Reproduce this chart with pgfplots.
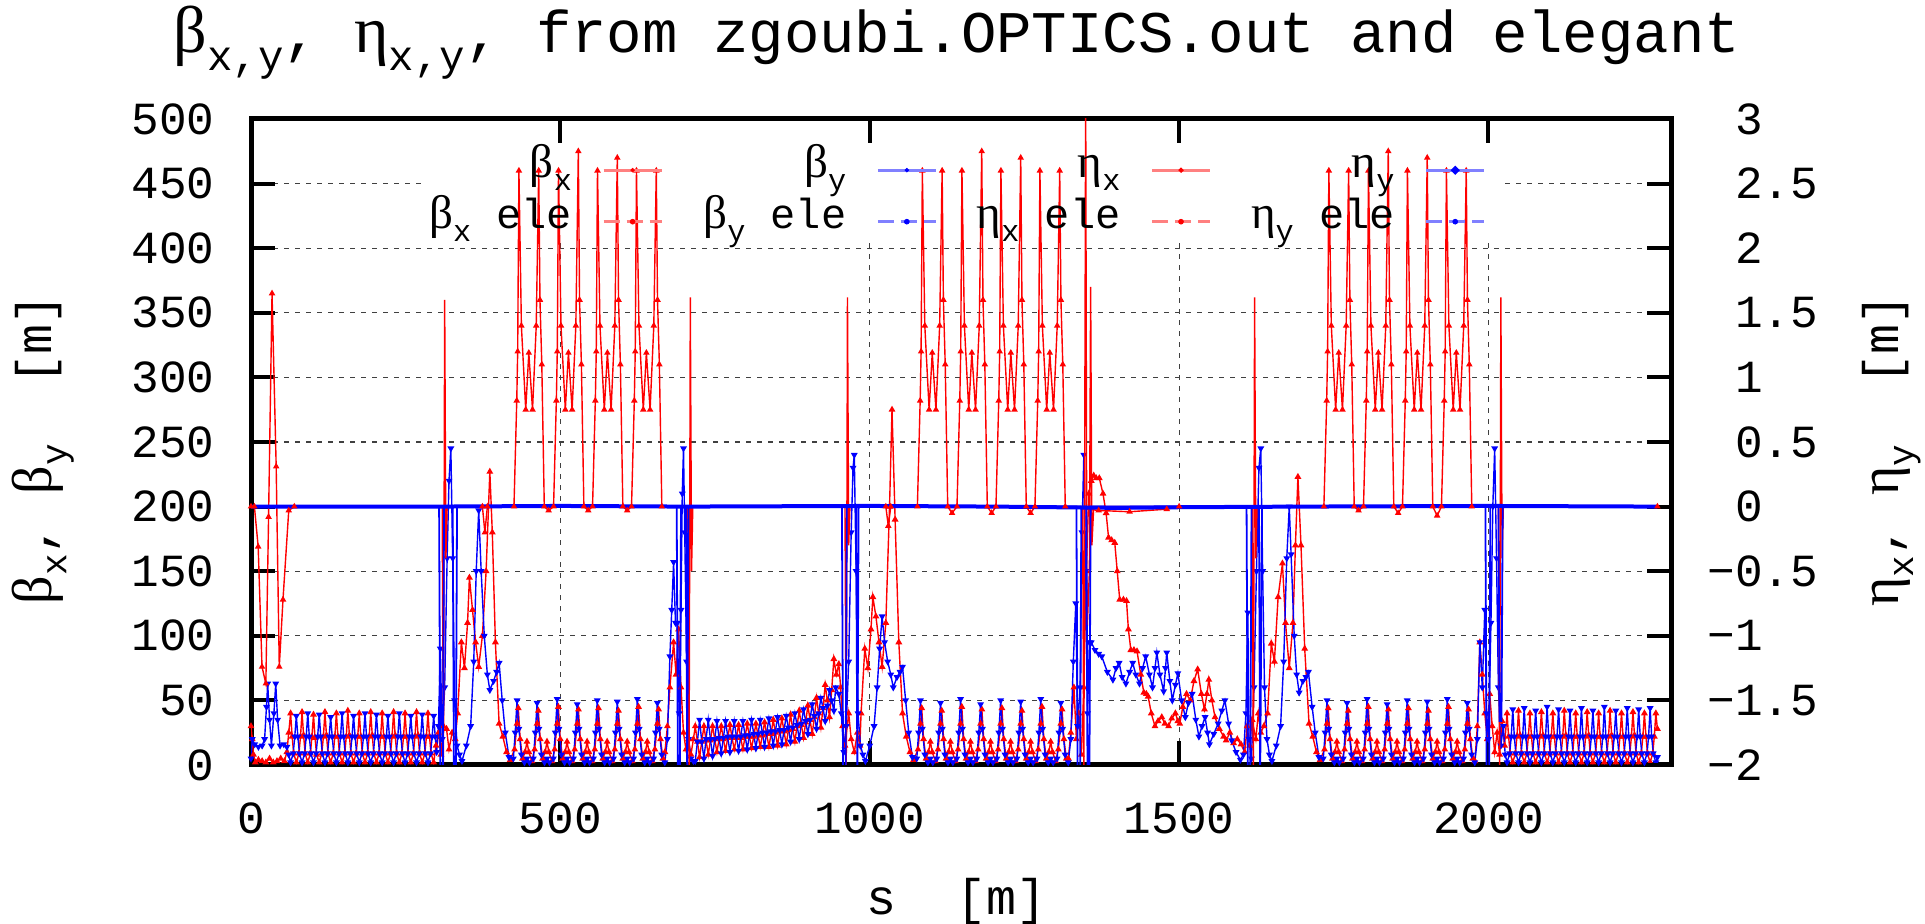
\documentclass[border=0pt]{standalone}
\usepackage{fontspec}
\setmainfont{Liberation Mono}
\newfontfamily\grk{Liberation Serif}
\usepackage{graphicx}
\usepackage{pgfplots}
\pgfplotsset{compat=1.18}
\newcommand{\sub}[1]{\raisebox{-0.3em}{\scalebox{0.72}{#1}}}
\newcommand{\G}[1]{\scalebox{1.12}{\grk #1}}
\newcommand{\tickfont}{\fontsize{23}{23}\selectfont}
\newcommand{\legfont}{\fontsize{21}{21}\selectfont}
\newcommand{\labfont}{\fontsize{25}{25}\selectfont}
\newcommand{\titfont}{\fontsize{29.5}{30}\selectfont}
\newcommand{\lt}[1]{\rule[-3.75pt]{0pt}{25.5pt}\makebox[106.5pt][r]{#1\hspace{15pt}}}
\pgfplotsset{
 legsolid/.style={legend image code/.code={\draw[#1!50, line width=1.6pt] (0pt,-6.5pt)--(29pt,-6.5pt); \fill[#1] (14.5pt,-6.5pt) circle (0.9pt);}},
 legdash/.style={legend image code/.code={\draw[#1!50, line width=1.6pt, dash pattern=on 8pt off 3.5pt] (0pt,-6.5pt)--(29pt,-6.5pt); \fill[#1] (14.5pt,-6.5pt) circle (1.2pt);}},
}
\begin{document}
\begin{tikzpicture}
\useasboundingbox (0,0) rectangle (962.5pt,462pt);
\begin{axis}[
  at={(125.5pt,79.5pt)}, anchor=south west,
  scale only axis, width=710pt, height=323pt,
  xmin=0, xmax=2295, ymin=0, ymax=500,
  xtick={0,500,1000,1500,2000}, xticklabels={0,500,1000,1500,2000},
  ytick={0,50,100,150,200,250,300,350,400,450,500},
  yticklabels={0,50,100,150,200,250,300,350,400,450,500},
  xtick pos=both, ytick pos=left, tick align=inside,
  major tick length=12pt,
  tick style={black, line width=2pt},
  axis line style={line width=2.5pt},
  grid=major, major grid style={black!75, line width=0.6pt, dash pattern=on 2.5pt off 3pt},
  tick label style={font=\tickfont, inner sep=0pt},
  yticklabel style={anchor=east, xshift=-18pt},
  xticklabel style={anchor=north, yshift=-18.5pt},
  title={\G{β}\sub{x,y}, \G{η}\sub{x,y}, from zgoubi.OPTICS.out and elegant},
  title style={at={(0.497,1.0836)}, anchor=base, font=\titfont, inner sep=0pt},
  xlabel={s~~[m]},
  xlabel style={at={(0.4965,-0.232)}, anchor=base, font=\labfont, inner sep=0pt},
  ylabel={\G{β}\sub{x}, \G{β}\sub{y}~~[m]},
  ylabel style={at={(-0.1465,0.489)}, anchor=center, font=\labfont, inner sep=0pt},
]
\fill[white] (axis cs:274,404) rectangle (axis cs:2023,481);
% beta_x
\addplot[red, line width=0.7pt, mark=triangle*, mark size=1.3pt] coordinates {
(0,30)(2,20)(4,8)(7,2)(12,4)(18,3)(24,2)(30,5)(36,2)(42,3)(48,5)(54,3)(58,10)(61,25)
(64,40)(66.5,22)(69,9)(73.25,2)(77.5,9)(80,22)
(82.5,41)(85,23)(87.5,9)(91.75,2)(96,9)(98.5,22)
(101,39)(103.5,21)(106,8)(110.25,2)(114.5,9)(117,22)
(119.5,41)(122,23)(124.5,9)(128.75,2)(133,9)(135.5,22)
(138,40)(140.5,22)(143,9)(147.25,2)(151.5,9)(154,22)
(156.5,42)(159,23)(161.5,9)(165.75,2)(170,9)(172.5,22)
(175,40)(177.5,22)(180,9)(184.25,2)(188.5,9)(191,22)
(193.5,41)(196,23)(198.5,9)(202.75,2)(207,9)(209.5,22)
(212,40)(214.5,22)(217,9)(221.25,2)(225.5,9)(228,22)
(230.5,41)(233,23)(235.5,9)(239.75,2)(244,9)(246.5,22)
(249,40)(251.5,22)(254,9)(258.25,2)(262.5,9)(265,22)
(267.5,41)(270,23)(272.5,9)(276.75,2)(281,9)(283.5,22)
(286,40)(288.5,22)(291,9)(295.25,2)
(299,15)(303,25)(307,8)(311,30)(316,28)(320,12)(325,25)(330,20)
(334,40)(340,95)(345,75)(350,110)(353,145)(358,120)(363,95)(368,76)(374,100)(380,150)(386,227)(390,180)(395,95)(401,32)(407,22)(413,10)(419,4)
(426,12)(430,32)(432,44)(435,20)(439,5)(443,10)(446,18)(449,10)(454,3)
(458.4,12)(462.4,32)(464.4,42)(467.4,20)(471.4,5)(475.4,10)(478.4,18)(481.4,10)(486.4,3)
(490.8,12)(494.8,32)(496.8,45)(499.8,20)(503.8,5)(507.8,10)(510.8,18)(513.8,10)(518.8,3)
(523.2,12)(527.2,32)(529.2,43)(532.2,20)(536.2,5)(540.2,10)(543.2,18)(546.2,10)(551.2,3)
(555.6,12)(559.6,32)(561.6,44)(564.6,20)(568.6,5)(572.6,10)(575.6,18)(578.6,10)(583.6,3)
(588,12)(592,32)(594,42)(597,20)(601,5)(605,10)(608,18)(611,10)(616,3)
(620.4,12)(624.4,32)(626.4,45)(629.4,20)(633.4,5)(637.4,10)(640.4,18)(643.4,10)(648.4,3)
(652.8,12)(656.8,32)(658.8,43)(661.8,20)(665.8,5)
(669,10)(673,30)(677,60)(683,95)(687,70)(691,105)(695,60)(699,25)(703,12)(707,20)(711,8)(715,20)
(718,30)(721.5,18)(725,6)(728.5,18)
(732,30)(735.5,19)(739,8)(742.5,19)
(746,30)(749.5,20)(753,10)(756.5,20)
(760,30)(763.5,20)(767,11)(770.5,21)
(774,31)(777.5,21)(781,12)(784.5,21)
(788,31)(791.5,21)(795,12)(798.5,22)
(802,32)(805.5,22)(809,13)(812.5,22)
(816,32)(819.5,23)(823,14)(826.5,23)
(830,33)(833.5,24)(837,14)(840.5,24)
(844,35)(847.5,25)(851,15)(854.5,26)
(858,36)(861.5,26)(865,16)(868.5,27)
(872,39)(875.5,28)(879,18)(882.5,30)
(886,42)(889.5,31)(893,21)(896.5,33)
(900,46)(903.5,35)(907,24)(910.5,37)
(914,52)(917.5,40)(921,29)(924.5,44)
(928,62)(931.5,50)(935,37)(938.5,58)
(942,82)(946,70)(950,78)(953,60)(956,30)(960,15)(966,40)(970,20)(975,10)(980,25)(984,15)
(986,40)(992,90)(997,75)(1002,105)(1005,130)(1010,115)(1015,95)(1020,76)(1026,110)(1032,200)(1036,275)(1041,190)(1047,95)(1053,40)(1059,22)(1065,10)(1071,4)
(1078,12)(1082,32)(1084,44)(1087,20)(1091,5)(1095,10)(1098,18)(1101,10)(1106,3)
(1110.4,12)(1114.4,32)(1116.4,42)(1119.4,20)(1123.4,5)(1127.4,10)(1130.4,18)(1133.4,10)(1138.4,3)
(1142.8,12)(1146.8,32)(1148.8,45)(1151.8,20)(1155.8,5)(1159.8,10)(1162.8,18)(1165.8,10)(1170.8,3)
(1175.2,12)(1179.2,32)(1181.2,43)(1184.2,20)(1188.2,5)(1192.2,10)(1195.2,18)(1198.2,10)(1203.2,3)
(1207.6,12)(1211.6,32)(1213.6,44)(1216.6,20)(1220.6,5)(1224.6,10)(1227.6,18)(1230.6,10)(1235.6,3)
(1240,12)(1244,32)(1246,42)(1249,20)(1253,5)(1257,10)(1260,18)(1263,10)(1268,3)
(1272.4,12)(1276.4,32)(1278.4,45)(1281.4,20)(1285.4,5)(1289.4,10)(1292.4,18)(1295.4,10)(1300.4,3)
(1304.8,12)(1308.8,32)(1310.8,43)(1313.8,20)(1317.8,5)
(1321,5)(1325,25)(1330,60)(1334,20)(1338,40)(1342,8)(1346,60)(1350,150)(1354,210)(1358,220)(1362,224)
(1366,222)(1371,222)(1377,210)(1382,195)(1386,176)(1391,174)(1396,172)(1400,150)(1404,128)(1410,128)(1415,127)(1418,105)(1422,89)(1427,89)(1432,88)(1438,70)(1443,56)(1447,55)(1450,53)(1455,40)(1461,30)(1466,34)(1472,37)(1477,32)(1483,30)(1488,36)(1494,40)(1498,34)(1501,32)(1506,45)(1512,55)(1518,50)(1524,65)(1530,74)(1536,55)(1541,43)(1545,55)(1548,66)(1553,50)(1558,37)(1565,28)(1572,22)(1576,19)(1582,25)(1588,17)(1594,20)(1600,16)
(1606,10)(1610,30)(1614,15)(1618,35)(1624,20)(1628,40)(1632,25)(1637,30)
(1643,40)(1649,94)(1654,80)(1660,130)(1667,156)(1672,110)(1678,75)(1684,110)(1688,170)(1692,223)(1697,170)(1703,90)(1710,32)(1716,22)(1722,10)(1728,4)
(1735,12)(1739,32)(1741,44)(1744,20)(1748,5)(1752,10)(1755,18)(1758,10)(1763,3)
(1767.4,12)(1771.4,32)(1773.4,42)(1776.4,20)(1780.4,5)(1784.4,10)(1787.4,18)(1790.4,10)(1795.4,3)
(1799.8,12)(1803.8,32)(1805.8,45)(1808.8,20)(1812.8,5)(1816.8,10)(1819.8,18)(1822.8,10)(1827.8,3)
(1832.2,12)(1836.2,32)(1838.2,43)(1841.2,20)(1845.2,5)(1849.2,10)(1852.2,18)(1855.2,10)(1860.2,3)
(1864.6,12)(1868.6,32)(1870.6,44)(1873.6,20)(1877.6,5)(1881.6,10)(1884.6,18)(1887.6,10)(1892.6,3)
(1897,12)(1901,32)(1903,42)(1906,20)(1910,5)(1914,10)(1917,18)(1920,10)(1925,3)
(1929.4,12)(1933.4,32)(1935.4,45)(1938.4,20)(1942.4,5)(1946.4,10)(1949.4,18)(1952.4,10)(1957.4,3)
(1961.8,12)(1965.8,32)(1967.8,43)(1970.8,20)(1974.8,5)
(1978,3)(1982,30)(1986,95)(1990,70)(1994,40)(1998,20)(2002,55)(2006,30)(2010,10)(2014,25)(2018,8)(2022,34)(2026,15)
(2030,40)(2032.5,22)(2035,9)(2039.25,2)(2043.5,9)(2046,22)
(2048.5,42)(2051,23)(2053.5,9)(2057.75,2)(2062,9)(2064.5,22)
(2067,40)(2069.5,22)(2072,9)(2076.25,2)(2080.5,9)(2083,22)
(2085.5,41)(2088,23)(2090.5,9)(2094.75,2)(2099,9)(2101.5,22)
(2104,40)(2106.5,22)(2109,9)(2113.25,2)(2117.5,9)(2120,22)
(2122.5,42)(2125,23)(2127.5,9)(2131.75,2)(2136,9)(2138.5,22)
(2141,40)(2143.5,22)(2146,9)(2150.25,2)(2154.5,9)(2157,22)
(2159.5,41)(2162,23)(2164.5,9)(2168.75,2)(2173,9)(2175.5,22)
(2178,40)(2180.5,22)(2183,9)(2187.25,2)(2191.5,9)(2194,22)
(2196.5,42)(2199,23)(2201.5,9)(2205.75,2)(2210,9)(2212.5,22)
(2215,40)(2217.5,22)(2220,9)(2224.25,2)(2228.5,9)(2231,22)
(2233.5,41)(2236,23)(2238.5,9)(2242.75,2)(2247,9)(2249.5,22)
(2252,40)(2254.5,22)(2257,9)(2261.25,2)(2265.5,9)(2268,22)
(2270.5,40)(2273,28)
};
% beta_y
\addplot[blue, line width=0.7pt, mark=triangle*, mark size=1.3pt, mark options={rotate=180}] coordinates {
(0,5)(2,20)(6,16)(12,14)(18,15)(22,20)(25,45)(27,63)(30,35)(33,15)(37,40)(40,63)(43,35)(47,15)(53,16)(58,14)(61,8)
(64,2)(68.25,9)(70.75,22)(73.25,38)(75.75,22)(78.25,9)
(82.5,2)(86.75,9)(89.25,22)(91.75,40)(94.25,22)(96.75,9)
(101,2)(105.25,9)(107.75,22)(110.25,39)(112.75,22)(115.25,9)
(119.5,2)(123.75,9)(126.25,22)(128.75,37)(131.25,22)(133.75,9)
(138,2)(142.25,9)(144.75,22)(147.25,40)(149.75,22)(152.25,9)
(156.5,2)(160.75,9)(163.25,22)(165.75,38)(168.25,22)(170.75,9)
(175,2)(179.25,9)(181.75,22)(184.25,40)(186.75,22)(189.25,9)
(193.5,2)(197.75,9)(200.25,22)(202.75,39)(205.25,22)(207.75,9)
(212,2)(216.25,9)(218.75,22)(221.25,38)(223.75,22)(226.25,9)
(230.5,2)(234.75,9)(237.25,22)(239.75,40)(242.25,22)(244.75,9)
(249,2)(253.25,9)(255.75,22)(258.25,38)(260.75,22)(263.25,9)
(267.5,2)(271.75,9)(274.25,22)(276.75,39)(279.25,22)(281.75,9)
(286,2)(290.25,9)(292.75,22)(295.25,38)(297.75,22)
(300,10)(303,30)(306,90)(309,20)(313,60)(317,160)(320,220)(323,245)(326,160)(329,50)(333,15)
(337,8)(341,3)(348,15)(355,30)(360,80)(364,150)(368,197)(372,150)(377,100)(382,70)(386,58)(392,65)(397,72)(401,79)(406,50)(411,25)(417,6)
(424,5)(427,25)(430,50)(433,28)(437,8)(442,2)(446,5)(450,2)
(456.4,5)(459.4,25)(462.4,48)(465.4,28)(469.4,8)(474.4,2)(478.4,5)(482.4,2)
(488.8,5)(491.8,25)(494.8,51)(497.8,28)(501.8,8)(506.8,2)(510.8,5)(514.8,2)
(521.2,5)(524.2,25)(527.2,47)(530.2,28)(534.2,8)(539.2,2)(543.2,5)(547.2,2)
(553.6,5)(556.6,25)(559.6,50)(562.6,28)(566.6,8)(571.6,2)(575.6,5)(579.6,2)
(586,5)(589,25)(592,49)(595,28)(599,8)(604,2)(608,5)(612,2)
(618.4,5)(621.4,25)(624.4,51)(627.4,28)(631.4,8)(636.4,2)(640.4,5)(644.4,2)
(650.8,5)(653.8,25)(656.8,48)(659.8,28)(663.8,8)(668.8,2)
(673,20)(677,84)(680,120)(683,157)(686,110)(689,110)(692,40)(695,120)(697,210)(699,245)(701,180)(704,80)(707,20)(711,5)(715,3)
(718,3)(721.5,18)(725,35)(728.5,18)
(732,5)(735.5,20)(739,35)(742.5,20)
(746,7)(749.5,20)(753,34)(756.5,21)
(760,9)(763.5,21)(767,34)(770.5,22)
(774,10)(777.5,22)(781,34)(784.5,22)
(788,11)(791.5,22)(795,34)(798.5,23)
(802,12)(805.5,23)(809,35)(812.5,24)
(816,13)(819.5,24)(823,35)(826.5,25)
(830,14)(833.5,25)(837,36)(840.5,26)
(844,15)(847.5,26)(851,37)(854.5,27)
(858,16)(861.5,27)(865,38)(868.5,29)
(872,18)(875.5,29)(879,40)(882.5,31)
(886,20)(889.5,32)(893,43)(896.5,34)
(900,24)(903.5,35)(907,47)(910.5,38)
(914,28)(917.5,40)(921,52)(924.5,44)
(928,34)(931.5,46)(935,58)(938.5,50)
(942,42)(945,60)
(950,55)(954,40)(958,10)(962,30)(966,80)(970,180)(973,230)(975,240)(978,150)(981,40)(985,15)
(989,8)(993,3)(1000,15)(1007,30)(1012,60)(1016,90)(1020,115)(1024,95)(1029,80)(1034,70)(1038,60)(1044,68)(1049,72)(1053,76)(1058,50)(1063,25)(1069,6)
(1076,5)(1079,25)(1082,50)(1085,28)(1089,8)(1094,2)(1098,5)(1102,2)
(1108.4,5)(1111.4,25)(1114.4,48)(1117.4,28)(1121.4,8)(1126.4,2)(1130.4,5)(1134.4,2)
(1140.8,5)(1143.8,25)(1146.8,51)(1149.8,28)(1153.8,8)(1158.8,2)(1162.8,5)(1166.8,2)
(1173.2,5)(1176.2,25)(1179.2,47)(1182.2,28)(1186.2,8)(1191.2,2)(1195.2,5)(1199.2,2)
(1205.6,5)(1208.6,25)(1211.6,50)(1214.6,28)(1218.6,8)(1223.6,2)(1227.6,5)(1231.6,2)
(1238,5)(1241,25)(1244,49)(1247,28)(1251,8)(1256,2)(1260,5)(1264,2)
(1270.4,5)(1273.4,25)(1276.4,51)(1279.4,28)(1283.4,8)(1288.4,2)(1292.4,5)(1296.4,2)
(1302.8,5)(1305.8,25)(1308.8,48)(1311.8,28)(1315.8,8)(1320.8,2)
(1325,20)(1329,80)(1333,125)(1336,30)(1340,60)(1343,180)(1346,240)(1349,150)(1352,40)(1355,95)(1358,95)
(1364,89)(1370,86)(1375,84)(1384,72)(1393,66)(1398,75)(1403,79)(1408,68)(1414,63)(1420,72)(1425,79)(1430,70)(1436,63)(1441,75)(1446,84)(1452,70)(1457,60)(1461,75)(1464,87)(1469,70)(1475,57)(1478,75)(1480,87)(1485,65)(1489,50)(1494,62)(1498,71)(1504,50)(1510,37)(1515,48)(1521,55)(1527,35)(1532,22)(1537,30)(1542,37)(1546,25)(1549,16)(1556,24)(1563,32)(1569,42)(1574,50)(1580,32)(1585,19)(1592,10)(1599,4)
(1604,8)(1608,40)(1611,118)(1613,20)(1617,5)(1621,60)(1625,150)(1629,230)(1632,245)(1635,150)(1638,60)(1642,20)
(1646,8)(1650,3)(1657,15)(1664,30)(1669,80)(1674,160)(1678,200)(1681,163)(1686,100)(1690,70)(1694,56)(1700,65)(1705,68)(1709,72)(1715,45)(1720,25)(1726,6)
(1733,5)(1736,25)(1739,50)(1742,28)(1746,8)(1751,2)(1755,5)(1759,2)
(1765.4,5)(1768.4,25)(1771.4,48)(1774.4,28)(1778.4,8)(1783.4,2)(1787.4,5)(1791.4,2)
(1797.8,5)(1800.8,25)(1803.8,51)(1806.8,28)(1810.8,8)(1815.8,2)(1819.8,5)(1823.8,2)
(1830.2,5)(1833.2,25)(1836.2,47)(1839.2,28)(1843.2,8)(1848.2,2)(1852.2,5)(1856.2,2)
(1862.6,5)(1865.6,25)(1868.6,50)(1871.6,28)(1875.6,8)(1880.6,2)(1884.6,5)(1888.6,2)
(1895,5)(1898,25)(1901,49)(1904,28)(1908,8)(1913,2)(1917,5)(1921,2)
(1927.4,5)(1930.4,25)(1933.4,51)(1936.4,28)(1940.4,8)(1945.4,2)(1949.4,5)(1953.4,2)
(1959.8,5)(1962.8,25)(1965.8,48)(1968.8,28)(1972.8,8)(1977.8,2)
(1982,20)(1986,95)(1990,60)(1994,120)(1997,40)(2000,20)(2004,110)(2007,200)(2010,245)(2013,160)(2016,60)(2020,15)(2024,30)(2027,8)
(2030,2)(2034.25,9)(2036.75,22)(2039.25,43)(2041.75,22)(2044.25,9)
(2048.5,2)(2052.75,9)(2055.25,22)(2057.75,44)(2060.25,22)(2062.75,9)
(2067,2)(2071.25,9)(2073.75,22)(2076.25,42)(2078.75,22)(2081.25,9)
(2085.5,2)(2089.75,9)(2092.25,22)(2094.75,45)(2097.25,22)(2099.75,9)
(2104,2)(2108.25,9)(2110.75,22)(2113.25,43)(2115.75,22)(2118.25,9)
(2122.5,2)(2126.75,9)(2129.25,22)(2131.75,42)(2134.25,22)(2136.75,9)
(2141,2)(2145.25,9)(2147.75,22)(2150.25,44)(2152.75,22)(2155.25,9)
(2159.5,2)(2163.75,9)(2166.25,22)(2168.75,42)(2171.25,22)(2173.75,9)
(2178,2)(2182.25,9)(2184.75,22)(2187.25,45)(2189.75,22)(2192.25,9)
(2196.5,2)(2200.75,9)(2203.25,22)(2205.75,42)(2208.25,22)(2210.75,9)
(2215,2)(2219.25,9)(2221.75,22)(2224.25,44)(2226.75,22)(2229.25,9)
(2233.5,2)(2237.75,9)(2240.25,22)(2242.75,43)(2245.25,22)(2247.75,9)
(2252,2)(2256.25,9)(2258.75,22)(2261.25,44)(2263.75,22)(2266.25,9)
(2270.5,2)(2273,6)
};
\end{axis}
\begin{axis}[
  at={(125.5pt,79.5pt)}, anchor=south west,
  scale only axis, width=710pt, height=323pt,
  xmin=0, xmax=2295, ymin=-2, ymax=3,
  xtick=\empty,
  ytick={-2,-1.5,-1,-0.5,0,0.5,1,1.5,2,2.5,3},
  yticklabels={−2,−1.5,−1,−0.5,\hphantom{−}0,\hphantom{−}0.5,\hphantom{−}1,\hphantom{−}1.5,\hphantom{−}2,\hphantom{−}2.5,\hphantom{−}3},
  ytick pos=right, tick align=inside,
  major tick length=12pt,
  tick style={black, line width=2pt},
  axis line style={draw=none},
  tick label style={font=\tickfont, inner sep=0pt},
  yticklabel style={anchor=west, xshift=18pt},
  ylabel={\G{η}\sub{x}, \G{η}\sub{y}~~[m]},
  ylabel style={at={(1.155,0.487)}, anchor=center, font=\labfont, inner sep=0pt},
  legend columns=4,
  legend plot pos=right,
  legend style={draw=none, fill=none, at={(0.0972,0.901)}, anchor=west, inner sep=0pt, outer sep=0pt, font=\legfont, nodes={inner sep=0pt}, column sep=0pt, row sep=2.5pt},
]
\addlegendimage{legsolid=red}\addlegendentry{\lt{\G{β}\sub{x}}}
\addlegendimage{legsolid=blue}\addlegendentry{\lt{\G{β}\sub{y}}}
% eta_x
\addplot[red, line width=0.7pt, mark=triangle*, mark size=1.2pt, legsolid=red] coordinates {
(0,0)(5.5,0)(11.6,-0.31)(17.8,-1.24)(24,-1.37)(28.4,-0.08)(34,1.65)(40.7,0.31)(45.7,-1.24)(51.7,-0.72)(61,-0.03)(70,0)
(374,0)(378,-0.2)(382,0)
(425,0)(429.5,0.82)(431,1.2)(433,2.6)(437,1.4)(444,0.75)(449,1.19)(455,0.75)(461,1.4)(465,2.6)(467,1.6)(470,1.1)(474,0)
(481,-0.03)
(489,0)(493.5,0.82)(495,1.2)(497,2.6)(501,1.4)(508,0.75)(513,1.19)(519,0.75)(525,1.4)(529,2.75)(531,1.6)(534,1.1)(538,0)
(545,-0.03)
(552,0)(556.5,0.82)(558,1.2)(560,2.6)(564,1.4)(571,0.75)(576,1.19)(582,0.75)(588,1.4)(592,2.7)(594,1.6)(597,1.1)(601,0)
(608,-0.03)
(615,0)(619.5,0.82)(621,1.2)(623,2.6)(627,1.4)(634,0.75)(639,1.19)(645,0.75)(651,1.4)(655,2.6)(657,1.6)(660,1.1)(664,0)
(1026,0)(1030,-0.15)(1034,0)
(1077,0)(1081.5,0.82)(1083,1.2)(1085,2.6)(1089,1.4)(1096,0.75)(1101,1.19)(1107,0.75)(1113,1.4)(1117,2.6)(1119,1.6)(1122,1.1)(1126,0)
(1133,-0.05)
(1141,0)(1145.5,0.82)(1147,1.2)(1149,2.6)(1153,1.4)(1160,0.75)(1165,1.19)(1171,0.75)(1177,1.4)(1181,2.75)(1183,1.6)(1186,1.1)(1190,0)
(1197,-0.05)
(1204,0)(1208.5,0.82)(1210,1.2)(1212,2.6)(1216,1.4)(1223,0.75)(1228,1.19)(1234,0.75)(1240,1.4)(1244,2.7)(1246,1.6)(1249,1.1)(1253,0)
(1260,-0.05)
(1267,0)(1271.5,0.82)(1273,1.2)(1275,2.6)(1279,1.4)(1286,0.75)(1291,1.19)(1297,0.75)(1303,1.4)(1307,2.6)(1309,1.6)(1312,1.1)(1316,0)
(1370,-0.03)(1420,-0.04)(1480,-0.02)(1500,0)
(1734,0)(1738.5,0.82)(1740,1.2)(1742,2.6)(1746,1.4)(1753,0.75)(1758,1.19)(1764,0.75)(1770,1.4)(1774,2.6)(1776,1.6)(1779,1.1)(1783,0)
(1790,-0.03)
(1798,0)(1802.5,0.82)(1804,1.2)(1806,2.6)(1810,1.4)(1817,0.75)(1822,1.19)(1828,0.75)(1834,1.4)(1838,2.75)(1840,1.6)(1843,1.1)(1847,0)
(1854,-0.05)
(1861,0)(1865.5,0.82)(1867,1.2)(1869,2.6)(1873,1.4)(1880,0.75)(1885,1.19)(1891,0.75)(1897,1.4)(1901,2.7)(1903,1.6)(1906,1.1)(1910,0)
(1917,-0.07)
(1924,0)(1928.5,0.82)(1930,1.2)(1932,2.6)(1936,1.4)(1943,0.75)(1948,1.19)(1954,0.75)(1960,1.4)(1964,2.6)(1966,1.6)(1969,1.1)(1973,0)
(2273,0)
};
\addlegendentry{\lt{\G{η}\sub{x}}}
% eta_x spikes (zgoubi)
\addplot[red, line width=0.7pt, forget plot] coordinates {
(300,0)(309,0)(311,-2.1)(313,1.6)(315,-0.4)(317,0)(706,0)(708,-2.1)(710,1.62)(712,-0.5)(714,0)
(960,0)(962,-2.1)(964,1.62)(966,-0.3)(968,0)(1344,0)(1346,-2.1)(1349,3.2)(1351,-1.0)(1355,-0.5)(1357,1.7)(1359,-0.3)(1362,0)
(1618,0)(1620,-2.1)(1622,1.62)(1624,-0.4)(1626,0)(2016,0)(2018,-2.1)(2020,1.62)(2022,-0.4)(2024,0)
};
% eta_y spikes
\addplot[blue, line width=0.9pt, forget plot] coordinates {
(0,0)(304,0)(306,-2.1)(310,-2.1)(312,0)(326,0)(328,-2.1)(331,-2.1)(333,0)(688,0)(690,-2.1)(693,-2.1)(695,0)(703,0)(705,-2.1)(707,0)
(955,0)(957,-2.1)(961,-2.1)(963,0)(978,0)(980,-2.1)(982,0)(1334,0)(1336,-2.1)(1340,-2.1)(1342,0)(1350,0)(1352,-2.1)(1355,-2.1)(1357,0)
(1609,0)(1611,-2.1)(1615,-2.1)(1617,0)(1629,0)(1631,-2.1)(1634,0)(1995,0)(1997,-2.1)(2001,-2.1)(2003,0)(2016,0)(2018,-1.66)(2021,-1.66)(2023,0)(2273,0)
};
% eta_y
\addplot[blue, line width=2pt, legsolid=blue] coordinates {
(0,0)(300,0)(500,0.005)(700,0)(1000,0.005)(1200,0)(1400,-0.01)(1500,-0.005)(1700,0)(2000,0.005)(2273,0)
};
\addlegendentry{\lt{\G{η}\sub{y}}}
\addlegendimage{legdash=red}\addlegendentry{\lt{\G{β}\sub{x} ele}}
\addlegendimage{legdash=blue}\addlegendentry{\lt{\G{β}\sub{y} ele}}
\addlegendimage{legdash=red}\addlegendentry{\lt{\G{η}\sub{x} ele}}
\addlegendimage{legdash=blue}\addlegendentry{\lt{\G{η}\sub{y} ele}}
\end{axis}
\end{tikzpicture}
\end{document}
